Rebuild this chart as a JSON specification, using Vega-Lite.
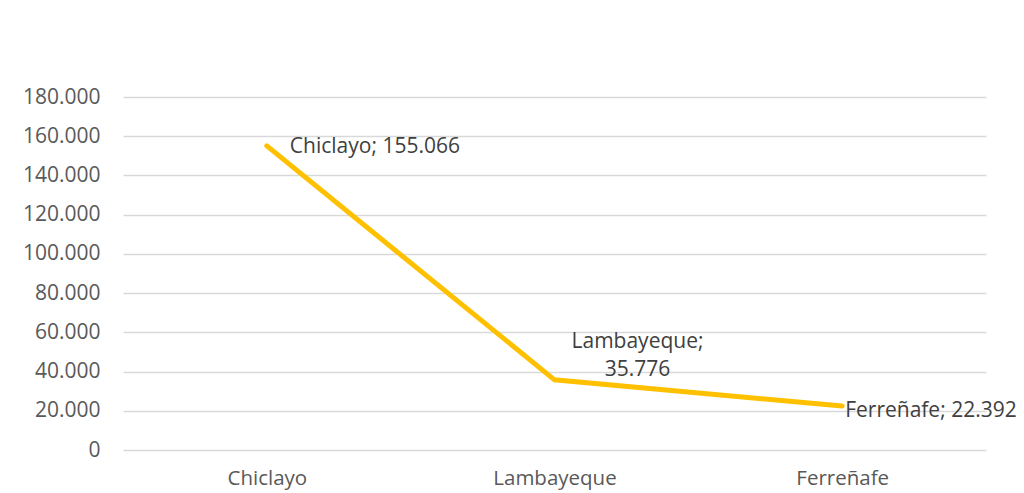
{
  "$schema": "https://vega.github.io/schema/vega-lite/v6.json",
  "width": 863,
  "height": 353,
  "autosize": {"type": "none"},
  "padding": {"left": 123, "top": 97, "right": 38, "bottom": 43},
  "background": "white",
  "config": {
    "locale": {"number": {"decimal": ",", "thousands": ".", "grouping": [3], "currency": ["", ""]}},
    "view": {"stroke": null},
    "font": "Open Sans"
  },
  "data": {
    "values": [
      {"city": "Chiclayo", "value": 155066},
      {"city": "Lambayeque", "value": 35776},
      {"city": "Ferreñafe", "value": 22392}
    ]
  },
  "transform": [
    {"calculate": "datum.city + '; ' + format(datum.value, ',')", "as": "label"},
    {"calculate": "datum.city + ';\\n' + format(datum.value, ',')", "as": "label2"}
  ],
  "encoding": {
    "x": {
      "field": "city",
      "type": "nominal",
      "sort": null,
      "scale": {"type": "point", "padding": 0.5},
      "axis": {
        "title": null,
        "domain": false,
        "ticks": false,
        "labelAngle": 0,
        "labelFont": "Open Sans",
        "labelFontSize": 20.5,
        "labelColor": "#595959",
        "labelPadding": 18,
        "grid": false
      }
    },
    "y": {
      "field": "value",
      "type": "quantitative",
      "scale": {"domain": [0, 180000]},
      "axis": {
        "title": null,
        "domain": false,
        "ticks": false,
        "values": [0, 20000, 40000, 60000, 80000, 100000, 120000, 140000, 160000, 180000],
        "format": ",d",
        "labelFont": "Open Sans",
        "labelFontSize": 21,
        "labelColor": "#595959",
        "labelPadding": 23,
        "gridColor": "#D9D9D9",
        "gridWidth": 1.3
      }
    }
  },
  "layer": [
    {"mark": {"type": "line", "color": "#FFC000", "strokeWidth": 5, "strokeCap": "round", "strokeJoin": "miter"}},
    {
      "transform": [{"filter": "datum.city === 'Chiclayo'"}],
      "mark": {"type": "text", "align": "left", "baseline": "middle", "dx": 23, "dy": 1, "fontSize": 21, "color": "#404040", "font": "Open Sans"},
      "encoding": {"text": {"field": "label"}}
    },
    {
      "transform": [{"filter": "datum.city === 'Ferreñafe'"}],
      "mark": {"type": "text", "align": "left", "baseline": "middle", "dx": 3, "dy": 5, "fontSize": 21, "color": "#404040", "font": "Open Sans"},
      "encoding": {"text": {"field": "label"}}
    },
    {
      "transform": [{"filter": "datum.city === 'Lambayeque'"}],
      "mark": {"type": "text", "align": "center", "baseline": "middle", "dx": 83, "dy": -38, "lineBreak": "\n", "lineHeight": 28, "fontSize": 21, "color": "#404040", "font": "Open Sans"},
      "encoding": {"text": {"field": "label2"}}
    }
  ]
}
